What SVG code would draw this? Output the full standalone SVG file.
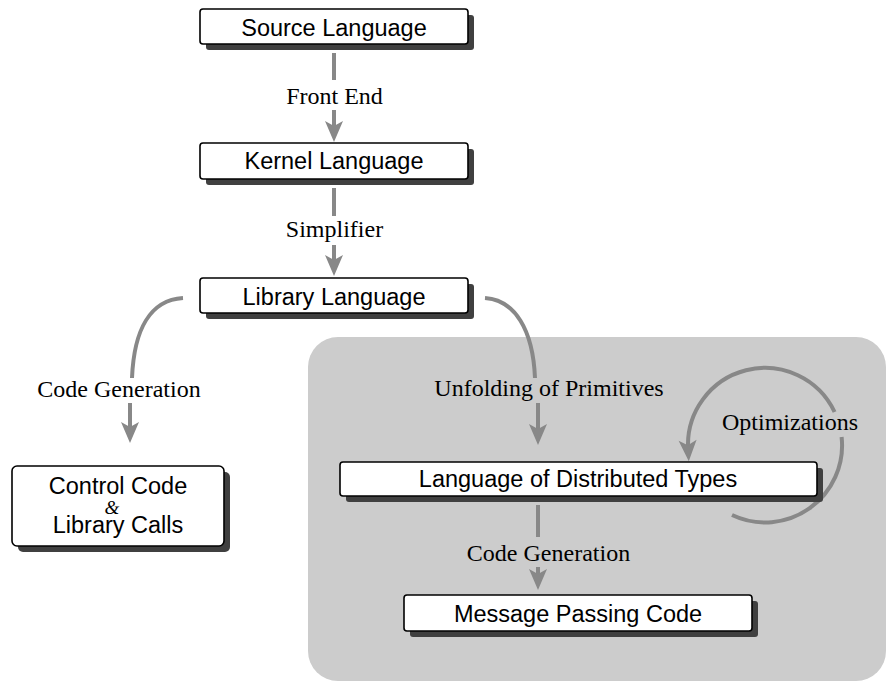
<svg xmlns="http://www.w3.org/2000/svg" width="887" height="682" viewBox="0 0 887 682">
  <style>
    .box { fill: #ffffff; stroke: #000000; stroke-width: 1.6; }
    .shadow { fill: #404040; }
    .name { font-family: "Liberation Sans", Arial, sans-serif; font-size: 23.5px; fill: #000000; text-anchor: middle; }
    .label { font-family: "Liberation Serif", "Times New Roman", serif; font-size: 24px; fill: #000000; text-anchor: middle; }
    .amp { font-family: "Liberation Serif", "Times New Roman", serif; font-style: italic; font-size: 19px; fill: #000000; text-anchor: middle; }
    .flow { fill: none; stroke: #888888; stroke-width: 4; }
    .arrow { marker-end: url(#head); }
  </style>
  <defs>
    <marker id="head" markerUnits="userSpaceOnUse" markerWidth="30" markerHeight="24" viewBox="-24 -12 30 24" refX="-12" refY="0" orient="auto">
      <path d="M0,0 L-21,-9 L-16,0 L-21,9 Z" fill="#888888"/>
    </marker>
  </defs>

  <!-- shaded region for the distributed back end -->
  <rect id="backend-region" x="308" y="337" width="578" height="344" rx="30" ry="30" fill="#cccccc"/>

  <!-- connectors -->
  <g id="connectors">
    <!-- Source -> Kernel -->
    <path class="flow" d="M334,53 L334,80"/>
    <path class="flow arrow" d="M334,110 L334,130"/>
    <!-- Kernel -> Library -->
    <path class="flow" d="M334,188 L334,216"/>
    <path class="flow arrow" d="M334,245 L334,264"/>
    <!-- Library -> Control Code -->
    <path class="flow" d="M183,298 C150,300 134,330 132,378"/>
    <path class="flow arrow" d="M130,403 L130,431"/>
    <!-- Library -> Distributed Types -->
    <path class="flow" d="M485,298 C515,300 533,330 535,378"/>
    <path class="flow arrow" d="M538,403 L538,433"/>
    <!-- Optimizations loop -->
    <path class="flow" d="M732,515 A77,77 0 0 0 841.6,437"/>
    <path class="flow arrow" d="M834.6,412 A77,77 0 0 0 688.1,449.2"/>
    <!-- Distributed Types -> Message Passing -->
    <path class="flow" d="M538,505 L538,537"/>
    <path class="flow arrow" d="M538,567 L538,578"/>
  </g>

  <!-- connector labels -->
  <g id="labels">
    <text class="label" x="334.5" y="104">Front End</text>
    <text class="label" x="334.5" y="237">Simplifier</text>
    <text class="label" x="119" y="397">Code Generation</text>
    <text class="label" x="549" y="396">Unfolding of Primitives</text>
    <text class="label" x="790" y="430">Optimizations</text>
    <text class="label" x="548.5" y="561">Code Generation</text>
  </g>

  <g id="source-language">
    <rect class="shadow" x="206" y="15" width="268" height="35" rx="3"/>
    <rect class="box" x="200" y="9" width="268" height="35" rx="3"/>
    <text class="name" x="334" y="36">Source Language</text>
  </g>

  <g id="kernel-language">
    <rect class="shadow" x="206" y="149" width="268" height="36" rx="3"/>
    <rect class="box" x="200" y="143" width="268" height="36" rx="3"/>
    <text class="name" x="334" y="169">Kernel Language</text>
  </g>

  <g id="library-language">
    <rect class="shadow" x="206" y="284" width="268" height="35" rx="3"/>
    <rect class="box" x="200" y="278" width="268" height="35" rx="3"/>
    <text class="name" x="334" y="305">Library Language</text>
  </g>

  <g id="control-code">
    <rect class="shadow" x="18" y="472" width="212" height="80" rx="5"/>
    <rect class="box" x="12" y="466" width="212" height="80" rx="5"/>
    <text class="name" x="118" y="494">Control Code</text>
    <text class="amp" x="112" y="514">&amp;</text>
    <text class="name" x="118" y="533">Library Calls</text>
  </g>

  <g id="distributed-types">
    <rect class="shadow" x="346" y="468" width="477" height="34" rx="3"/>
    <rect class="box" x="340" y="462" width="477" height="34" rx="3"/>
    <text class="name" x="578" y="487">Language of Distributed Types</text>
  </g>

  <g id="message-passing">
    <rect class="shadow" x="410" y="601" width="348" height="36" rx="3"/>
    <rect class="box" x="404" y="595" width="348" height="36" rx="3"/>
    <text class="name" x="578" y="622">Message Passing Code</text>
  </g>
</svg>
